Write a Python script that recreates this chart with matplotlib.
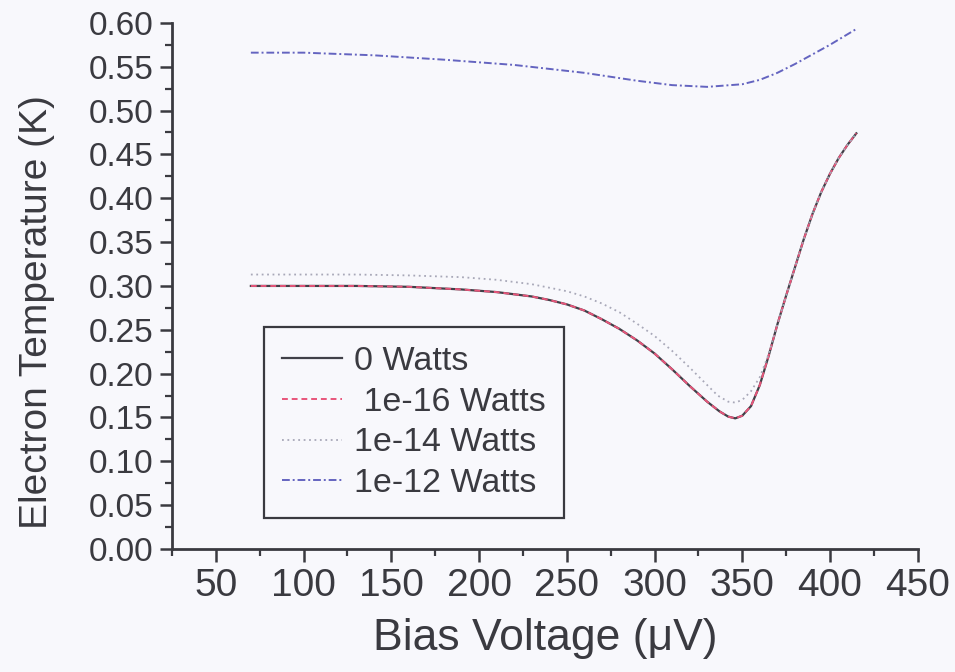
import matplotlib
matplotlib.use("Agg")
import matplotlib.pyplot as plt
from matplotlib.ticker import MultipleLocator, FormatStrFormatter

plt.rcParams['font.family'] = ['Liberation Sans', 'DejaVu Sans']

# ---- data ----
v_base = [70, 100, 130, 160, 190, 210, 230, 240, 250, 260, 270, 280, 290, 300,
          310, 320, 330, 337, 342, 346, 350, 355, 360, 365, 370, 375, 380, 385,
          390, 395, 400, 405, 410, 415]
t_0w = [0.300, 0.300, 0.300, 0.299, 0.296, 0.293, 0.288, 0.284, 0.279, 0.272,
        0.262, 0.251, 0.238, 0.223, 0.205, 0.186, 0.168, 0.157, 0.151, 0.149,
        0.152, 0.163, 0.187, 0.220, 0.256, 0.289, 0.321, 0.353, 0.382, 0.407,
        0.428, 0.446, 0.461, 0.474]
t_1e16 = list(t_0w)

v_1e14 = [70, 100, 130, 160, 190, 210, 230, 250, 260, 270, 280, 290, 300, 310,
          320, 330, 336, 342, 346, 350, 355, 360, 365, 370, 375, 380, 385, 390,
          395, 400, 405, 410, 415]
t_1e14 = [0.313, 0.313, 0.313, 0.312, 0.310, 0.307, 0.302, 0.294, 0.288, 0.280,
          0.270, 0.257, 0.243, 0.226, 0.207, 0.187, 0.175, 0.168, 0.167, 0.170,
          0.180, 0.196, 0.222, 0.256, 0.289, 0.321, 0.353, 0.382, 0.407, 0.428,
          0.446, 0.461, 0.474]

v_1e12 = [70, 100, 140, 180, 220, 260, 290, 310, 330, 350, 360, 370, 380, 390,
          400, 410, 415]
t_1e12 = [0.566, 0.566, 0.563, 0.558, 0.552, 0.543, 0.534, 0.529, 0.527, 0.530,
          0.535, 0.543, 0.553, 0.564, 0.575, 0.587, 0.593]

labels = ["0 Watts", " 1e-16 Watts", "1e-14 Watts", "1e-12 Watts"]
x_label = "Bias Voltage (\u03bcV)"
y_label = "Electron Temperature (K)"

bg = '#f8f8fc'
ink = '#3a3a40'

fig = plt.figure(figsize=(9.55, 6.72), dpi=100, facecolor=bg)
ax = fig.add_axes([0.180, 0.183, 0.781, 0.783], facecolor=bg)

ax.plot(v_base, t_0w, color='#404048', lw=1.6, ls='-', label=labels[0])
ax.plot(v_base, t_1e16, color='#e8557a', lw=1.4, ls=(0, (3, 2)), label=labels[1])
ax.plot(v_1e14, t_1e14, color='#a8a8b8', lw=1.3, ls=(0, (1, 2)), label=labels[2])
ax.plot(v_1e12, t_1e12, color='#6464c0', lw=1.4, ls=(0, (4, 1.5, 1, 1.5)), label=labels[3])

ax.set_xlim(25, 450)
ax.set_ylim(0, 0.6)
ax.xaxis.set_major_locator(MultipleLocator(50))
ax.xaxis.set_minor_locator(MultipleLocator(25))
ax.yaxis.set_major_locator(MultipleLocator(0.05))
ax.yaxis.set_minor_locator(MultipleLocator(0.025))
ax.yaxis.set_major_formatter(FormatStrFormatter('%.2f'))

for s in ['top', 'right']:
    ax.spines[s].set_visible(False)
for s in ['left', 'bottom']:
    ax.spines[s].set_linewidth(2.0)
    ax.spines[s].set_color(ink)

ax.tick_params(axis='both', which='major', direction='out', length=9, width=1.8,
               color=ink, labelcolor=ink)
ax.tick_params(axis='both', which='minor', direction='out', length=5, width=1.6,
               color=ink)
ax.tick_params(axis='x', which='major', labelsize=28, pad=5)
ax.tick_params(axis='y', which='major', labelsize=24, pad=4)

ax.set_xlabel(x_label, fontsize=32, color=ink, labelpad=10)
ax.set_ylabel(y_label, fontsize=28, color=ink)
ax.yaxis.set_label_coords(-0.157, 0.45)

leg = ax.legend(loc='upper left', bbox_to_anchor=(0.123, 0.422), borderaxespad=0,
                fontsize=24.5, handlelength=1.75, handletextpad=0.35,
                labelspacing=0.29, fancybox=False, framealpha=1,
                borderpad=0.55, labelcolor=ink)
leg.get_frame().set_edgecolor(ink)
leg.get_frame().set_linewidth(1.6)
leg.get_frame().set_facecolor(bg)

fig.savefig("out.png", dpi=100, facecolor=bg)
